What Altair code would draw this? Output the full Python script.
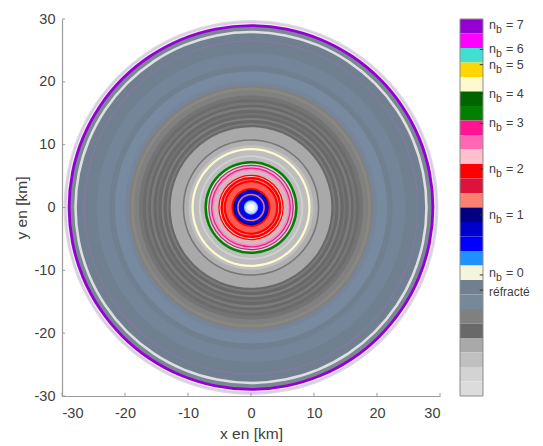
import altair as alt
import pandas as pd

# Rings, from the centre outwards: outer radius in km and colour
ring_outer = [0.55, 0.95, 1.15, 1.7, 1.95, 2.2, 2.6, 2.8, 3.1, 4.0, 4.35, 4.45, 4.85, 5.0, 5.2, 5.9,
              6.15, 6.35, 6.6, 6.8, 7.0, 7.4, 8.0, 8.3, 9.1, 9.45, 9.9, 10.6, 10.85, 12.75,
              13.1, 13.4, 13.9, 14.2, 14.7, 15.0, 15.5, 15.9, 16.3, 16.7, 17.2, 17.8, 18.6, 19.0, 19.4,
              20.0, 21.6, 22.5, 24.5, 26.4, 26.55, 27.65, 28.05, 28.65, 29.1, 29.3, 29.55, 29.75]
ring_colour = ["#ffffff", "#d5e6fb", "#6fb0f5", "#0000ff", "#1010d8", "#e0806a", "#0000ff", "#00008b",
               "#ff0000", "#ff5a50", "#ff0000", "#ffb0b0", "#ff0000", "#ffc8c8", "#ff0000", "#d8b8c0",
               "#f090c0", "#ff1493", "#d0c0c8", "#c8206f", "#d8d8d8", "#008000", "#bebebe", "#d0d0d0",
               "#bdbdbd", "#fffacd", "#c0c0c0", "#b0b0b0", "#777777", "#a9a9a9",
               "#696969", "#7a7a7a", "#696969", "#808080", "#696969", "#747474", "#696969", "#7c7c7c",
               "#696969", "#777777", "#6c6c6c", "#747474", "#808080", "#888880", "#808080",
               "#76859a", "#788a9f", "#708090", "#74859a", "#708090", "#8a78a8", "#708090", "#e0e0e0",
               "#7a8794", "#9400d3", "#eeeeee", "#dcc8e8", "#dcdcdc"]

# Colour bar, from top to bottom
bar_colour = ["#9400d3", "#ff00ff", "#40e0d0", "#ffd700", "#fffacd", "#006400", "#008000", "#ff1493",
              "#ff69b4", "#ffc0cb", "#ff0000", "#dc143c", "#fa8072", "#000080", "#0000cd", "#0000ff",
              "#1e90ff", "#f5f5dc", "#708090", "#778899", "#808080", "#696969", "#a9a9a9", "#c0c0c0",
              "#d3d3d3", "#dcdcdc"]
bar_index = list(range(26))
label_pos = [0.4, 2.1, 3.15, 5.15, 7.2, 10.35, 13.5, 17.5, 18.8]
label_suffix = ["= 7", "= 6", "= 5", "= 4", "= 3", "= 2", "= 1", "= 0"]
refracte_label = "réfracté"
tick_pos = [2.1, 3.15, 5.15, 7.2, 10.35, 13.5, 17.65, 18.7]

axis_ticks = [-30, -20, -10, 0, 10, 20, 30]
x_title = "x en [km]"
y_title = "y en [km]"

FONT = "Liberation Sans"
TXT = "#404040"
AX = "#9a9a9a"

rings = pd.DataFrame({"r": ring_outer, "c": ring_colour}).iloc[::-1]
x_s = alt.Scale(domain=[-30, 30], nice=False)
y_s = alt.Scale(domain=[-30, 30], nice=False)

base = alt.Chart(pd.DataFrame({"t": axis_ticks, "lo": [-30] * 7, "hi": [-29.5] * 7, "l": [-30] * 7, "h": [-29.5] * 7}))
axes = base.mark_point(opacity=0).encode(
    x=alt.X("t:Q", scale=x_s, title=x_title,
            axis=alt.Axis(values=axis_ticks, grid=False, ticks=False, domainColor=AX, domainWidth=1.2,
                          labelExpr="'' + datum.value",
                          labelFont=FONT, labelFontSize=14.5, labelColor=TXT, labelPadding=10, labelAngle=0,
                          titleFont=FONT, titleFontSize=15.5, titleColor=TXT, titleFontWeight="normal", titlePadding=7)),
    y=alt.Y("t:Q", scale=y_s, title=y_title,
            axis=alt.Axis(values=axis_ticks, grid=False, ticks=False, domainColor=AX, domainWidth=1.2,
                          labelExpr="'' + datum.value",
                          labelFont=FONT, labelFontSize=14.5, labelColor=TXT, labelPadding=7,
                          titleFont=FONT, titleFontSize=15.5, titleColor=TXT, titleFontWeight="normal", titlePadding=5)),
)
xticks = base.mark_rule(color=AX, strokeWidth=1).encode(x=alt.X("t:Q", scale=x_s), y=alt.Y("lo:Q", scale=y_s), y2="hi:Q")
yticks = base.mark_rule(color=AX, strokeWidth=1).encode(y=alt.Y("t:Q", scale=y_s), x=alt.X("l:Q", scale=x_s), x2="h:Q")
disc = alt.Chart(rings).mark_arc(theta=0, theta2=6.2832).encode(
    radius=alt.Radius("r:Q", scale=alt.Scale(domain=[0, 30], range=[0, 189]), stack=None),
    color=alt.Color("c:N", scale=None),
)
main = alt.layer(axes, disc, xticks, yticks)

y_bar = alt.Scale(domain=[0, 26], reverse=True, nice=False)
x_bar = alt.Scale(domain=[0, 1], range=[398, 421], nice=False)
bar_df = pd.DataFrame({"i": bar_index, "j": [i + 1 for i in bar_index], "c": bar_colour, "a": [0] * 26, "b": [1] * 26})
bar = alt.Chart(bar_df).mark_rect().encode(
    y=alt.Y("i:Q", scale=y_bar, axis=None), y2="j:Q",
    x=alt.X("a:Q", scale=x_bar, axis=None), x2="b:Q",
    color=alt.Color("c:N", scale=None),
)
frame = alt.Chart(pd.DataFrame({"a": [0], "b": [1], "i": [0], "j": [26]})).mark_rect(
    fillOpacity=0, stroke="#8c8c8c", strokeWidth=1).encode(
    y=alt.Y("i:Q", scale=y_bar, axis=None), y2="j:Q", x=alt.X("a:Q", scale=x_bar, axis=None), x2="b:Q")
tick_df = pd.DataFrame({"p": tick_pos, "a": [0.86] * 8, "b": [1] * 8})
bar_ticks = alt.Chart(tick_df).mark_rule(color="#333333", strokeWidth=1).encode(
    y=alt.Y("p:Q", scale=y_bar, axis=None), x=alt.X("a:Q", scale=x_bar, axis=None), x2="b:Q")

lab_df = pd.DataFrame({"p": label_pos[:8], "a": [1] * 8, "s": label_suffix, "n": ["n"] * 8, "sub": ["b"] * 8})
def lab(field, dx, dy, size):
    return alt.Chart(lab_df).mark_text(align="left", baseline="middle", dx=dx, dy=dy, font=FONT, fontSize=size, color=TXT).encode(
        y=alt.Y("p:Q", scale=y_bar, axis=None), x=alt.X("a:Q", scale=x_bar, axis=None), text=alt.Text(field + ":N"))
ref = alt.Chart(pd.DataFrame({"p": [label_pos[8]], "a": [1], "s": [refracte_label]})).mark_text(
    align="left", baseline="middle", dx=6, font=FONT, fontSize=12, color=TXT).encode(
    y=alt.Y("p:Q", scale=y_bar, axis=None), x=alt.X("a:Q", scale=x_bar, axis=None), text=alt.Text("s:N"))
cbar = alt.layer(bar, frame, bar_ticks, lab("n", 6, 0, 12.5), lab("sub", 13, 5, 10.5), lab("s", 23, 0, 12.5), ref)

chart = alt.layer(main, cbar).resolve_scale(x="independent", y="independent").properties(
    width=378, height=377,
    padding={"left": 6, "top": 3, "right": 0, "bottom": 0}, background="white"
).configure_view(stroke=None)
chart.save("out.html", embed_options={"renderer": "svg", "actions": False})
